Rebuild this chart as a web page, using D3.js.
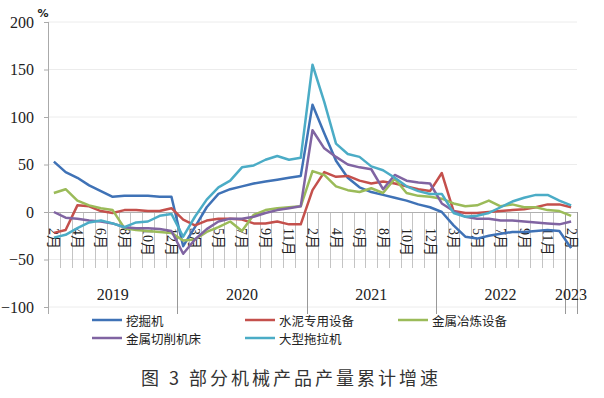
<!DOCTYPE html>
<html>
<head>
<meta charset="utf-8">
<script src="https://cdn.jsdelivr.net/npm/d3@7"></script>
<style>
  body { margin: 0; background: #fff; }
  svg { display: block; }
</style>
</head>
<body>
<div id="chart"></div>
<script>
// Category axis: each year starts at Feb (Jan+Feb are reported together)
const years = ["2019", "2020", "2021", "2022", "2023"];
const monthsByYear = [
  [2, 3, 4, 5, 6, 7, 8, 9, 10, 11, 12],
  [2, 3, 4, 5, 6, 7, 8, 9, 10, 11, 12],
  [2, 3, 4, 5, 6, 7, 8, 9, 10, 11, 12],
  [2, 3, 4, 5, 6, 7, 8, 9, 10, 11, 12],
  [2]
];
const yTicks = [-100, -50, 0, 50, 100, 150, 200];

// Series values (%)
const excavator = [
  53, 42, 36, 28, 22, 16, 17, 17, 17, 16, 16,
  -36, -16, 5, 19, 24, 27, 30, 32, 34, 36, 38,
  113, 83, 54, 36, 26, 21, 18, 15, 12, 8, 5,
  0, -14, -26, -28, -25, -23, -21, -21, -20, -19, -20,
  -38
];
const cementEquip = [
  -22, -19, 7, 6, 1, -1, 2, 2, 1, 1, 4,
  -8, -14, -9, -7, -7, -8, -12, -12, -10, -13, -13,
  23, 42, 37, 38, 33, 30, 32, 30, 27, 24, 22,
  41, 1, -1, -1, 0, 1, 2, 3, 5, 8, 8,
  5
];
const smeltingEquip = [
  20, 24, 12, 7, 4, 2, -17, -19, -20, -21, -22,
  -30, -29, -21, -16, -10, -20, -3, 2, 4, 5, 6,
  43, 39, 27, 23, 21, 25, 20, 35, 20, 17, 16,
  14, 9, 6, 7, 12, 6, 8, 5, 5, 2, 1,
  -4
];
const cuttingTools = [
  0, -6, -7, -9, -10, -12, -16, -17, -17, -18, -20,
  -44, -29, -18, -10, -7, -7, -5, -1, 2, 4, 6,
  86, 67, 58, 50, 47, 45, 24, 39, 33, 31, 30,
  9, 1, -5, -7, -7, -9, -9, -10, -11, -12, -13,
  -10
];
const tractors = [
  -27, -24, -17, -11, -9, -12, -16, -11, -10, -4, -2,
  -26, -5, 13, 26, 33, 47, 49, 55, 59, 55, 57,
  155, 116, 72, 61, 58, 48, 44, 36, 27, 22, 19,
  19, -1, -5, -4, -1, 5, 11, 15, 18, 18, 12,
  7
];

const seriesNames = ["挖掘机", "水泥专用设备", "金属冶炼设备", "金属切削机床", "大型拖拉机"];
const seriesValues = [excavator, cementEquip, smeltingEquip, cuttingTools, tractors];
const seriesColors = ["#3f72b6", "#c4504c", "#9bbb59", "#8064a2", "#4bacc6"];

const width = 604, height = 398;
const plot = { left: 48, right: 577, top: 22, bottom: 307 };
const axisY = 212;

// flatten categories
const categories = [];
years.forEach((yr, yi) => {
  monthsByYear[yi].forEach(m => categories.push({ year: yr, month: m, label: m + "月" }));
});

const svg = d3.select("#chart").append("svg")
  .attr("width", width)
  .attr("height", height);

const x = d3.scaleBand()
  .domain(d3.range(categories.length))
  .range([plot.left, plot.right])
  .padding(0);
const cx = i => x(i) + x.bandwidth() / 2;

const y = d3.scaleLinear()
  .domain([-100, 200])
  .range([plot.bottom, plot.top]);

// gridlines
svg.append("g")
  .selectAll("line")
  .data(yTicks.filter(t => t !== 0))
  .enter().append("line")
  .attr("x1", plot.left).attr("x2", plot.right)
  .attr("y1", d => y(d)).attr("y2", d => y(d))
  .attr("stroke", "#ececec")
  .attr("stroke-width", 1);

// y axis
const yAxis = d3.axisLeft(y).tickValues(yTicks).tickSize(4).tickPadding(10);
const yg = svg.append("g")
  .attr("transform", `translate(${plot.left},0)`)
  .call(yAxis);
yg.select(".domain").remove();
yg.selectAll(".tick line").attr("stroke", "#aaa");
yg.selectAll(".tick text")
  .attr("fill", "#222")
  .style("font-family", "'Liberation Serif', 'DejaVu Serif', serif")
  .style("font-size", "16px")
  .text(d => d < 0 ? "\u2212" + Math.abs(d) : d);

svg.append("line")
  .attr("x1", plot.left + 0.5).attr("x2", plot.left + 0.5)
  .attr("y1", plot.top).attr("y2", 314)
  .attr("stroke", "#aaa");

svg.append("text")
  .attr("x", 43).attr("y", 17)
  .attr("text-anchor", "middle")
  .style("font-family", "'DejaVu Sans', sans-serif")
  .style("font-size", "11px")
  .style("font-weight", "bold")
  .attr("fill", "#222")
  .text("%");

// category axis: separators between every month, longer between years
const yearStart = new Set();
categories.forEach((c, i) => { if (i > 0 && c.year !== categories[i - 1].year) yearStart.add(i); });
const bounds = d3.range(1, categories.length + 1);
svg.append("g")
  .selectAll("line")
  .data(bounds)
  .enter().append("line")
  .attr("x1", i => Math.round(i === categories.length ? plot.right : x(i)) + 0.5)
  .attr("x2", i => Math.round(i === categories.length ? plot.right : x(i)) + 0.5)
  .attr("y1", axisY)
  .attr("y2", i => (yearStart.has(i) || i === categories.length) ? 314 : 268)
  .attr("stroke", i => (yearStart.has(i) || i === categories.length) ? "#999" : "#c4c4c4")
  .attr("stroke-width", 1);

svg.append("line")
  .attr("x1", plot.left).attr("x2", plot.right)
  .attr("y1", axisY + 0.5).attr("y2", axisY + 0.5)
  .attr("stroke", "#b0b0b0");

// month labels, every other category, rotated
svg.append("g")
  .selectAll("text")
  .data(categories.map((c, i) => ({ c, i })).filter(d => d.i % 2 === 0))
  .enter().append("text")
  .attr("transform", d => `translate(${cx(d.i)},${axisY + 16}) rotate(90)`)
  .attr("dominant-baseline", "central")
  .style("font-family", "'Liberation Serif', 'Noto Sans CJK SC', serif")
  .style("font-size", "14px")
  .attr("fill", "#222")
  .text(d => d.c.label);

// year labels centred under their months
years.forEach(yr => {
  const idx = categories.map((c, i) => c.year === yr ? i : -1).filter(i => i >= 0);
  const mid = (x(idx[0]) + x(idx[idx.length - 1]) + x.bandwidth()) / 2;
  svg.append("text")
    .attr("x", mid).attr("y", 300)
    .attr("text-anchor", "middle")
    .style("font-family", "'Liberation Serif', 'DejaVu Serif', serif")
    .style("font-size", "16px")
    .attr("fill", "#222")
    .text(yr);
});

// lines
const line = d3.line()
  .x((d, i) => cx(i))
  .y(d => y(d));

svg.append("g")
  .selectAll("path")
  .data(seriesValues)
  .enter().append("path")
  .attr("d", line)
  .attr("fill", "none")
  .attr("stroke", (d, i) => seriesColors[i])
  .attr("stroke-width", 2.5)
  .attr("stroke-linejoin", "round");

// legend
const legendPos = [[92, 320], [245, 320], [398, 320], [92, 338], [245, 338]];
const legend = svg.append("g")
  .selectAll("g")
  .data(seriesNames)
  .enter().append("g")
  .attr("transform", (d, i) => `translate(${legendPos[i][0]},${legendPos[i][1]})`);
legend.append("line")
  .attr("x1", 0).attr("x2", 30)
  .attr("stroke", (d, i) => seriesColors[i])
  .attr("stroke-width", 2.5);
legend.append("text")
  .attr("x", 34)
  .attr("dominant-baseline", "central")
  .style("font-family", "'Noto Sans CJK SC', sans-serif")
  .style("font-size", "12.5px")
  .attr("fill", "#222")
  .text(d => d);

// title
svg.append("text")
  .attr("x", 291).attr("y", 385)
  .attr("text-anchor", "middle")
  .style("font-family", "'Noto Sans CJK SC', sans-serif")
  .style("font-size", "18px")
  .style("letter-spacing", "3px")
  .attr("fill", "#333")
  .text("图 3 部分机械产品产量累计增速");
</script>
</body>
</html>
